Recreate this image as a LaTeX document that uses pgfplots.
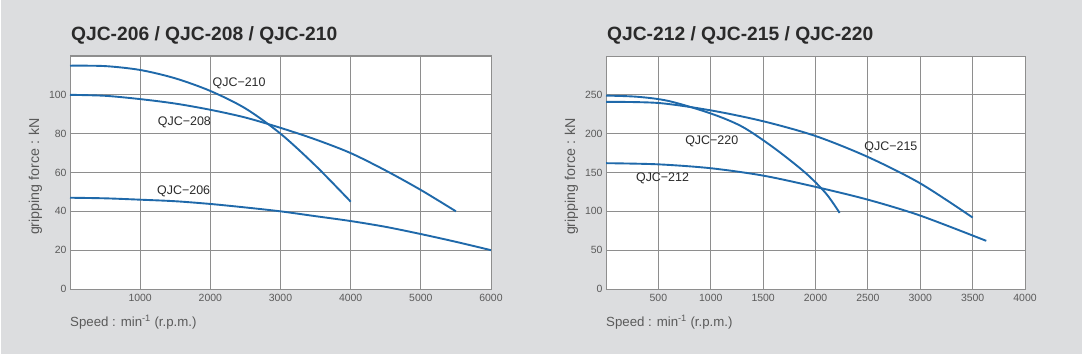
\documentclass[border=0pt]{standalone}
\usepackage{pgfplots}
\pgfplotsset{compat=1.18}
\usepackage{fontspec}
\setmainfont{Liberation Sans}
\definecolor{bg}{HTML}{DCDDDF}
\definecolor{curve}{HTML}{1F69AA}
\definecolor{gridc}{HTML}{8E8E8E}
\definecolor{tick}{HTML}{5A5A5A}
\definecolor{ttl}{HTML}{2A2A2A}
\tikzset{clabel/.style={anchor=west, inner sep=0pt, font=\fontsize{12.5}{14}\selectfont, text=ttl},
  cv/.style={draw=curve, line width=1.9pt, smooth, mark=none}}
\pgfplotsset{
  chartstyle/.style={
    scale only axis,
    width=421bp, height=233bp,
    axis background/.style={fill=white},
    axis line style={gridc, line width=1pt},
    grid=major,
    major grid style={gridc, line width=0.9pt},
    tick style={draw=none},
    ticklabel style={font=\fontsize{10.5}{12}\selectfont, text=tick},
    xticklabel style={yshift=-2bp},
    /pgf/number format/assume math mode=true,
    /pgf/number format/1000 sep={},
    xlabel style={font=\fontsize{13.3}{15}\selectfont, text=tick, anchor=north west, inner sep=0pt, at={(axis description cs:0,0)}, yshift=-26bp},
    ylabel style={font=\fontsize{14.3}{16}\selectfont, text=tick, xshift=-4bp},
    clip=false,
  }
}
\begin{document}
\begin{tikzpicture}[x=1bp,y=1bp]
\fill[white] (0,0) rectangle (1083,357);
\fill[bg] (1,3) rectangle (1082,357);
\node[anchor=base west, inner sep=0pt, font=\fontsize{19.3}{22}\selectfont\bfseries, text=ttl] at (71,317) {QJC-206 / QJC-208 / QJC-210};
\node[anchor=base west, inner sep=0pt, font=\fontsize{19.3}{22}\selectfont\bfseries, text=ttl] at (607,317) {QJC-212 / QJC-215 / QJC-220};
\begin{axis}[chartstyle, at={(70bp,68bp)}, anchor=south west,
  xmin=0, xmax=6000, ymin=0, ymax=120,
  xtick={0,1000,2000,3000,4000,5000,6000},
  xticklabels={,1000,2000,3000,4000,5000,6000},
  ytick={0,20,40,60,80,100,120},
  yticklabels={0,20,40,60,80,100,},
  xlabel={Speed : min\textsuperscript{-1} (r.p.m.)},
  ylabel={gripping force : kN}]
\addplot[cv] coordinates {(0,115) (500,114.8) (1000,112.8) (1500,108.5) (2000,102) (2500,93) (3000,80) (3500,63.5) (4000,45)};
\addplot[cv] coordinates {(0,100) (500,99.5) (1000,97.8) (1500,95.5) (2000,92.3) (2500,88.3) (3000,83) (3500,77) (4000,70) (4500,61) (5000,51) (5500,40)};
\addplot[cv] coordinates {(0,47) (500,46.7) (1000,46) (1500,45.2) (2000,43.8) (2500,42) (3000,40) (3500,37.5) (4000,35) (4500,32) (5000,28.3) (5500,24.3) (6000,20)};
\node[clabel] at (axis cs:2030,106) {QJC−210};
\node[clabel] at (axis cs:1250,86) {QJC−208};
\node[clabel] at (axis cs:1240,50.5) {QJC−206};
\end{axis}
\begin{axis}[chartstyle, at={(606bp,68bp)}, anchor=south west, width=419bp,
  xmin=0, xmax=4000, ymin=0, ymax=300,
  xtick={0,500,1000,1500,2000,2500,3000,3500,4000},
  xticklabels={,500,1000,1500,2000,2500,3000,3500,4000},
  ytick={0,50,100,150,200,250,300},
  yticklabels={0,50,100,150,200,250,},
  xlabel={Speed : min\textsuperscript{-1} (r.p.m.)},
  ylabel={gripping force : kN}]
\addplot[cv] coordinates {(0,249) (300,247.5) (600,242) (1000,226) (1300,209) (1600,182) (1900,150) (2100,123) (2230,98)};
\addplot[cv] coordinates {(0,241) (500,239.5) (1000,230) (1500,216) (2000,197) (2500,170) (3000,136) (3500,92)};
\addplot[cv] coordinates {(0,162) (500,160.5) (1000,155.5) (1500,146) (2000,131.5) (2500,115) (3000,94.5) (3630,62)};
\node[clabel] at (axis cs:755,190) {QJC−220};
\node[clabel] at (axis cs:2465,183) {QJC−215};
\node[clabel] at (axis cs:285,143) {QJC−212};
\end{axis}
\end{tikzpicture}
\end{document}
